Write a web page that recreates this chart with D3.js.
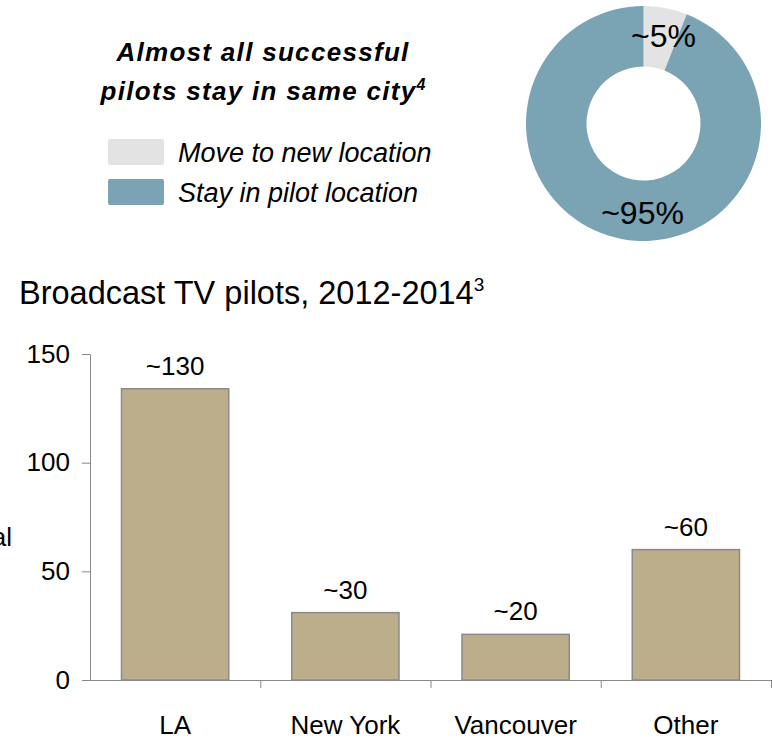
<!DOCTYPE html>
<html>
<head>
<meta charset="utf-8">
<script src="https://cdn.jsdelivr.net/npm/d3@7"></script>
<style>
  body { margin: 0; background: #fff; }
  svg { font-family: "Liberation Sans", Arial, sans-serif; }
</style>
</head>
<body>
<svg width="772" height="741"></svg>
<script>
var cities = ["LA", "New York", "Vancouver", "Other"];
var pilots = [134, 31, 21, 60];
var pilotLabels = ["~130", "~30", "~20", "~60"];
var yTicks = [0, 50, 100, 150];

var moveNames = ["Move to new location", "Stay in pilot location"];
var moveShares = [6, 94];
var moveLabels = ["~5%", "~95%"];
var moveColors = ["#e3e3e3", "#7aa3b4"];

var svg = d3.select("svg");

// ---- top left: heading + legend
var headStyle = function(t) {
  t.attr("x", 263).attr("text-anchor", "middle")
    .style("font-size", "26px").style("font-weight", "bold").style("font-style", "italic")
    .style("letter-spacing", "1.3px");
};
svg.append("text").call(headStyle).attr("y", 61).text("Almost all successful");
var l2 = svg.append("text").call(headStyle).attr("y", 100);
l2.append("tspan").text("pilots stay in same city");
l2.append("tspan").attr("dy", -10).style("font-size", "16px").style("letter-spacing", "0px").text("4");

var legend = svg.append("g").selectAll("g").data(moveNames)
  .enter().append("g")
  .attr("transform", function(d, i) { return "translate(108," + (139 + i * 40) + ")"; });
legend.append("rect")
  .attr("width", 56).attr("height", 26).attr("rx", 2)
  .attr("fill", function(d, i) { return moveColors[i]; });
legend.append("text")
  .attr("x", 70).attr("y", 23)
  .style("font-size", "27px").style("font-style", "italic")
  .text(function(d) { return d; });

// ---- donut
var pie = d3.pie().sort(null)(moveShares);
var arc = d3.arc().innerRadius(57).outerRadius(117.5);
var donut = svg.append("g").attr("transform", "translate(643.5,123.5)");
donut.selectAll("path").data(pie).enter().append("path")
  .attr("d", arc)
  .attr("fill", function(d, i) { return moveColors[i]; });
var labelPos = [[20, -77], [-1, 100]];
donut.selectAll("text.pct").data(pie).enter().append("text")
  .attr("class", "pct")
  .attr("x", function(d, i) { return labelPos[i][0]; })
  .attr("y", function(d, i) { return labelPos[i][1]; })
  .attr("text-anchor", "middle")
  .style("font-size", "32px")
  .text(function(d, i) { return moveLabels[i]; });

// ---- bar chart
var title = svg.append("text").attr("x", 19).attr("y", 304).style("font-size", "32.5px");
title.append("tspan").text("Broadcast TV pilots, 2012-2014");
title.append("tspan").attr("dy", -13).style("font-size", "19px").text("3");

var x = d3.scaleBand().domain(cities).range([90, 771]).paddingInner(0.37).paddingOuter(0.185);
var xEdge = d3.scaleLinear().domain([0, cities.length]).range([90, 771]);
var y = d3.scaleLinear().domain([0, 150]).range([680, 354]);

var axisColor = "#888";

var yAxis = svg.append("g")
  .attr("transform", "translate(90,0)")
  .call(d3.axisLeft(y).tickValues(yTicks).tickSize(8).tickSizeOuter(0).tickPadding(12));
yAxis.select(".domain").attr("stroke", axisColor);
yAxis.selectAll(".tick line").attr("stroke", axisColor);
yAxis.selectAll("text").style("font-size", "26px").attr("fill", "#000")
  .attr("font-family", null);

// y-axis title, mostly off the left edge as in the original
svg.append("text")
  .attr("x", 12).attr("y", 546)
  .attr("text-anchor", "end")
  .style("font-size", "26px")
  .text("Total");

svg.selectAll("rect.bar").data(pilots).enter().append("rect")
  .attr("class", "bar")
  .attr("x", function(d, i) { return x(cities[i]); })
  .attr("width", x.bandwidth())
  .attr("y", function(d) { return y(d); })
  .attr("height", function(d) { return y(0) - y(d); })
  .attr("fill", "#bcae8a")
  .attr("stroke", "#8a8a8a")
  .attr("stroke-width", 1.5);

svg.selectAll("text.val").data(pilots).enter().append("text")
  .attr("class", "val")
  .attr("x", function(d, i) { return x(cities[i]) + x.bandwidth() / 2; })
  .attr("y", function(d) { return y(d) - 14; })
  .attr("text-anchor", "middle")
  .style("font-size", "26px")
  .text(function(d, i) { return pilotLabels[i]; });

// x axis: baseline with ticks at band edges
var xAxis = svg.append("g").attr("transform", "translate(0,680)")
  .call(d3.axisBottom(xEdge).tickValues(d3.range(1, cities.length + 1)).tickSize(8).tickFormat(""));
xAxis.select(".domain").attr("stroke", axisColor).attr("d", "M83,0.5H771.5V8");
xAxis.selectAll(".tick line").attr("stroke", axisColor);

svg.selectAll("text.cat").data(cities).enter().append("text")
  .attr("class", "cat")
  .attr("x", function(d) { return x(d) + x.bandwidth() / 2; })
  .attr("y", 734)
  .attr("text-anchor", "middle")
  .style("font-size", "26px")
  .text(function(d) { return d; });
</script>
</body>
</html>
